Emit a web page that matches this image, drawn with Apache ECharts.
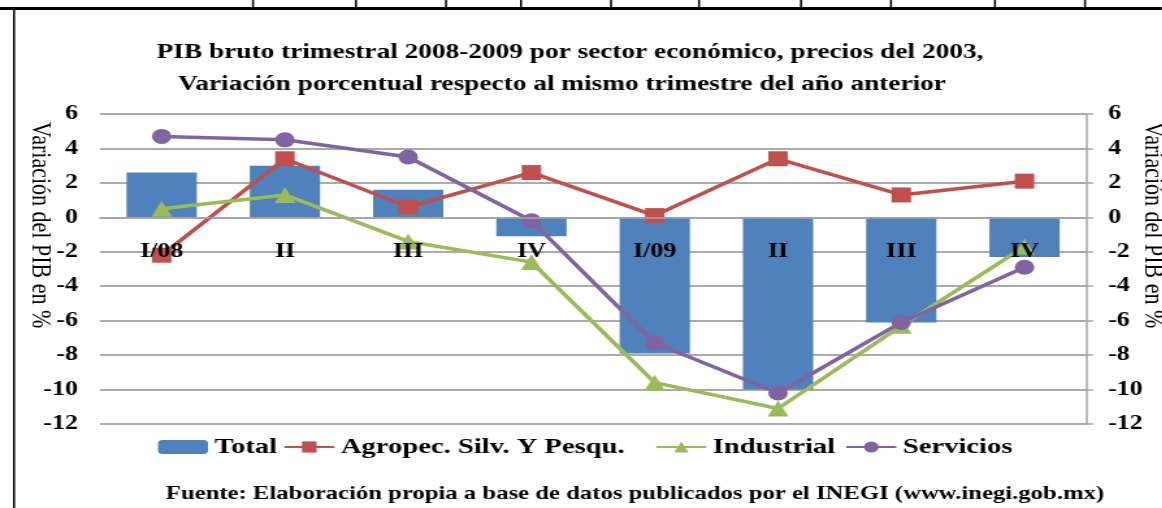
<!DOCTYPE html>
<html>
<head>
<meta charset="utf-8">
<script src="https://cdn.jsdelivr.net/npm/echarts@6/dist/echarts.min.js"></script>
<style>
html,body{margin:0;padding:0;background:#fff;overflow:hidden;}
#wrap{width:1162px;height:508px;overflow:hidden;}
#chart{width:894px;height:508px;transform:scaleX(1.3);transform-origin:0 0;}
</style>
</head>
<body>
<div id="wrap"><div id="chart"></div></div>
<script>
const categories = ['I/08', 'II', 'III', 'IV', 'I/09', 'II', 'III', 'IV'];
const total = [2.6, 3.0, 1.6, -1.1, -7.9, -10.0, -6.1, -2.3];
const agropec = [-2.2, 3.4, 0.6, 2.6, 0.1, 3.4, 1.3, 2.1];
const industrial = [0.5, 1.3, -1.4, -2.6, -9.6, -11.1, -6.3, -1.7];
const servicios = [4.7, 4.5, 3.5, -0.2, -7.3, -10.2, -6.1, -2.9];
const seriesNames = ['Total', 'Agropec. Silv. Y Pesqu.', 'Industrial', 'Servicios'];
const titleLines = ['PIB bruto trimestral 2008-2009 por sector económico, precios del 2003,',
                    'Variación porcentual respecto al mismo trimestre del año anterior'];
const axisName = 'Variación del PIB en %';
const sourceText = 'Fuente: Elaboración propia a base de datos publicados por el INEGI (www.inegi.gob.mx)';

const SX = 1.3; // horizontal stretch of the whole picture
const px = v => v / SX;
const tableCols = [252, 355, 445, 520, 610, 698, 800, 890, 994, 1084];
const legendLefts = [158, 283, 655, 845];

const serif = '"Liberation Serif", "Times New Roman", serif';
const chart = echarts.init(document.getElementById('chart'));

const gridColor = '#a6a6a6';
const gridBottom = 84, chartH = 508;
const yAxisBase = {
  type: 'value', min: -12, max: 6, interval: 2,
  splitLine: { show: true, lineStyle: { color: gridColor, width: 1.5 } },
  axisLabel: { color: '#000', fontFamily: serif, fontWeight: 'bold', fontSize: 20, margin: px(22) },
  name: axisName, nameLocation: 'middle', nameRotate: -90, nameMoveOverlap: false,
  nameTextStyle: { color: '#000', fontFamily: serif, fontSize: 22, padding: [0, 88, 0, 0] }
};

const graphics = [
  { type: 'rect', shape: { x: 0, y: 7, width: px(1162), height: 3 }, style: { fill: '#000' } },
  { type: 'rect', shape: { x: px(13), y: 9, width: px(2), height: 499 }, style: { fill: '#000' } }
];
tableCols.forEach(x => graphics.push({ type: 'rect', shape: { x: px(x), y: 0, width: px(2), height: 9 }, style: { fill: '#000' } }));
graphics.push({ type: 'text', x: px(570), y: 53, style: { text: titleLines[0], fill: '#000', font: 'bold 21px ' + serif, align: 'center', verticalAlign: 'middle' } });
graphics.push({ type: 'text', x: px(562), y: 85, style: { text: titleLines[1], fill: '#000', font: 'bold 21px ' + serif, align: 'center', verticalAlign: 'middle' } });
graphics.push({ type: 'text', x: px(635), y: 494, style: { text: sourceText, fill: '#000', font: 'bold 19px ' + serif, align: 'center', verticalAlign: 'middle' } });

const legends = seriesNames.map((n, i) => ({
  data: [n], left: px(legendLefts[i]), top: 436, padding: 0,
  itemWidth: px(50), itemHeight: 14,
  textStyle: { color: '#000', fontFamily: serif, fontWeight: 'bold', fontSize: 22 }
}));

chart.setOption({
  animation: false,
  backgroundColor: '#fff',
  grid: { left: px(100), right: px(1162 - 1086), top: 114, bottom: gridBottom, outerBoundsMode: 'none', containLabel: false },
  legend: legends,
  xAxis: {
    type: 'category', data: categories, position: 'bottom', z: 10,
    axisLine: { show: true, onZero: false, lineStyle: { color: gridColor, width: 1.5 } },
    axisTick: { show: false },
    axisLabel: { color: '#000', fontFamily: serif, fontWeight: 'bold', fontSize: 20, margin: 24 }
  },
  yAxis: [
    Object.assign({}, yAxisBase, { position: 'left', nameGap: 35, axisLine: { show: false }, axisTick: { show: false } }),
    Object.assign({}, yAxisBase, { position: 'right', nameGap: 40,
      axisLine: { show: true, lineStyle: { color: gridColor, width: 1.5 } },
      axisTick: { show: true, inside: false, length: px(7), lineStyle: { color: gridColor, width: 1.5 } } })
  ],
  series: [
    { name: seriesNames[0], type: 'bar', data: total, barWidth: '57%', itemStyle: { color: '#4F81BD' }, z: 1 },
    { name: seriesNames[1], type: 'line', data: agropec, symbol: 'rect', symbolSize: 15,
      lineStyle: { color: '#C0504D', width: 3.5 }, itemStyle: { color: '#C0504D' }, z: 3 },
    { name: seriesNames[2], type: 'line', data: industrial, symbol: 'triangle', symbolSize: 16,
      lineStyle: { color: '#9BBB59', width: 3.5 }, itemStyle: { color: '#9BBB59' }, z: 3 },
    { name: seriesNames[3], type: 'line', data: servicios, symbol: 'circle', symbolSize: 15,
      lineStyle: { color: '#8064A2', width: 3.5 }, itemStyle: { color: '#8064A2' }, z: 4 }
  ],
  graphic: graphics
});

// place the category axis on the value 0 of the value axis
const zeroY = chart.convertToPixel({ yAxisIndex: 0 }, 0);
chart.setOption({ xAxis: { offset: -((chartH - gridBottom) - zeroY) } });
</script>
</body>
</html>
